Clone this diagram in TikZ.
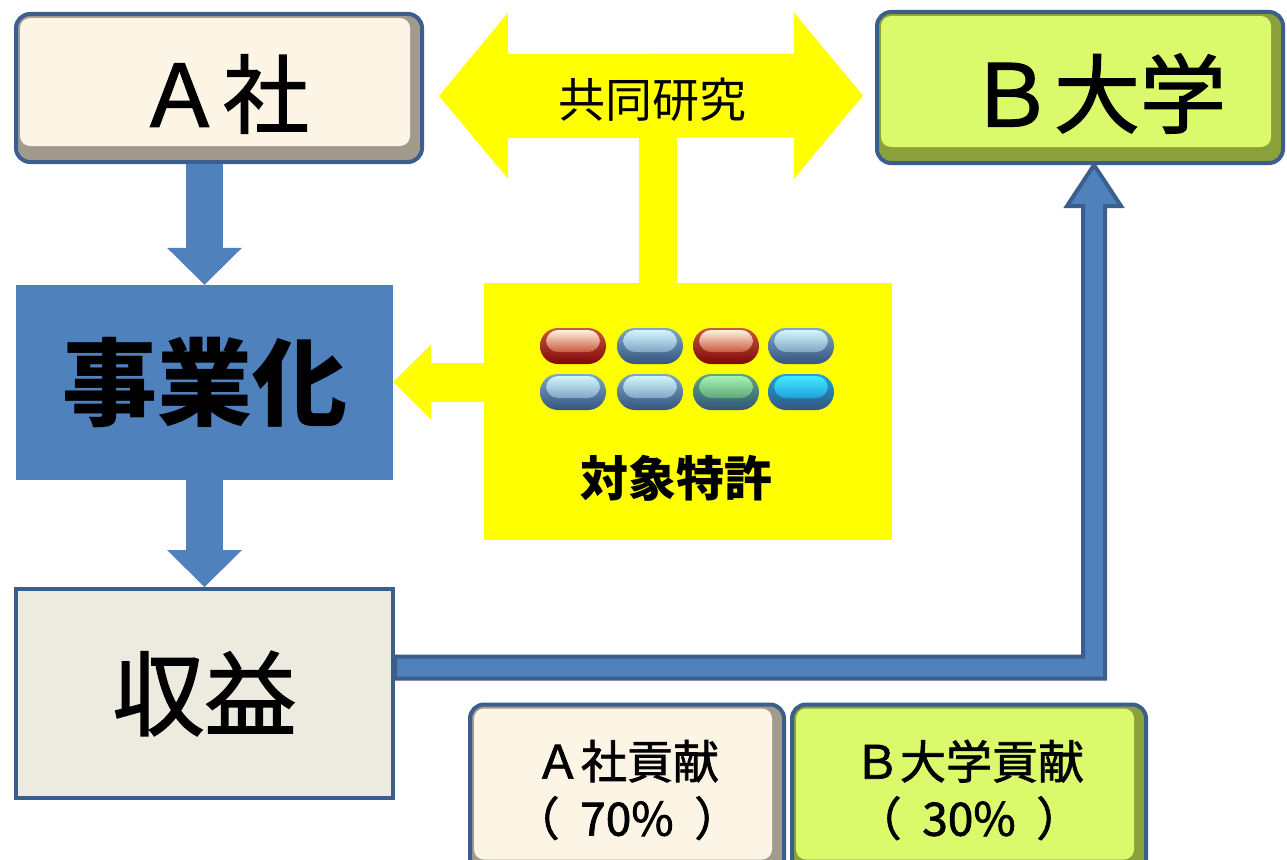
\documentclass[tikz,border=0pt]{standalone}
\usepackage{fontspec}
\newfontfamily\jp{Noto Sans CJK JP}
\newfontfamily\jpm[FakeBold=1.6]{Noto Sans CJK JP}
\usetikzlibrary{arrows.meta,calc}

\definecolor{bluebox}{HTML}{4F81BD}
\definecolor{blueline}{HTML}{3B5E8C}
\definecolor{creamface}{HTML}{FCF5E6}
\definecolor{creamside}{HTML}{A39A8E}
\definecolor{limeface}{HTML}{DBFA6B}
\definecolor{limeside}{HTML}{8CA03C}
\definecolor{profitfill}{HTML}{EDEBE0}
\definecolor{patentfill}{HTML}{FFFF00}
% pill colours
\definecolor{redrim}{HTML}{7E0808}
\definecolor{redbody}{HTML}{C85A40}
\definecolor{redhl}{HTML}{FFF2DC}
\definecolor{bluerim}{HTML}{34557F}
\definecolor{bluebody}{HTML}{7FA6C6}
\definecolor{bluehl}{HTML}{D2F6FB}
\definecolor{greenbody}{HTML}{5DA878}
\definecolor{greenhl}{HTML}{A8F2B4}
\definecolor{cyanbody}{HTML}{1EA2DC}
\definecolor{cyanhl}{HTML}{44EAFF}

% x, y, rim, body, highlight
\newcommand{\pill}[5]{%
  \shade[top color=#4, bottom color=#3, rounded corners=18pt] (#1-33,#2-18) rectangle (#1+33,#2+18);
  \shade[top color=#5, bottom color=#4, rounded corners=12pt] (#1-27,#2-16) rectangle (#1+27,#2+6);
}

\begin{document}
\begin{tikzpicture}[x=1pt, y=-1pt, font=\jpm,
    bevel/.style 2 args={draw=blueline, line width=4pt, rounded corners=14pt, fill=#2, inner sep=0pt,
      path picture={\fill[#1, rounded corners=10pt] ([shift={(4,4)}]path picture bounding box.north west)
        rectangle ([shift={(-12,-16)}]path picture bounding box.south east);}},
    bluearrow/.style={draw=bluebox, line width=37pt, -{Triangle[width=75pt, length=37pt, line width=0pt]}},
    ytip/.tip={Triangle[width=166pt, length=69pt, line width=0pt]},
    big/.style={font=\jpm\fontsize{86}{86}\selectfont},
    share/.style={font=\jpm\fontsize{46}{57}\selectfont, align=center}]
  \useasboundingbox (0,0) rectangle (1287,859);
  \clip (0,0) rectangle (1287,859);

  \node[bevel={creamface}{creamside}, minimum width=406, minimum height=148] (A) at (219,88) {};
  \node[bevel={limeface}{limeside}, minimum width=406, minimum height=151] (B) at (1080,87.5) {};
  \node[fill=bluebox, minimum width=377, minimum height=195, inner sep=0pt] (biz) at (204.5,382.5)
    {\jp\fontsize{95}{95}\selectfont\bfseries 事業化};
  \node[draw=blueline, line width=4pt, fill=profitfill, minimum width=377, minimum height=209, inner sep=0pt]
    (profit) at (204.5,693.5) {\fontsize{92}{92}\selectfont 収益};
  \node[fill=patentfill, minimum width=408, minimum height=257, inner sep=0pt] (patent) at (688,411.5) {};
  \node[bevel={creamface}{creamside}, minimum width=314, minimum height=171, share] (cA) at (627,790)
    {Ａ社貢献\\（\hspace{0.45em}70\%\hspace{0.45em}）};
  \node[bevel={limeface}{limeside}, minimum width=354, minimum height=171, share] (cB) at (969,790)
    {Ｂ大学貢献\\（\hspace{0.45em}30\%\hspace{0.45em}）};

  \node[big] at ([shift={(4,6)}]A.center) {Ａ社};
  \node[big] at ([shift={(17,6)}]B.center) {Ｂ大学};

  % joint research
  \coordinate (joint) at (652,100);
  \draw[patentfill, line width=38pt] ([xshift=-30]patent.north) -- ([xshift=-30]patent.north |- joint);
  \draw[patentfill, line width=84pt, ytip-ytip] ([shift={(15,8)}]A.east) -- ([shift={(-12,8)}]B.west);
  \node[font=\jp\fontsize{47}{47}\selectfont] at (joint) {共同研究};
  \draw[patentfill, line width=39pt, -{Triangle[width=75pt, length=38pt, line width=0pt]}]
    ([yshift=29.5]patent.west) -- ([yshift=29.5]patent.west -| biz.east);

  \draw[bluearrow] (A.south -| biz.north) -- (biz.north);
  \draw[bluearrow] (biz.south) -- (profit.north);

  % revenue back to B
  \coordinate (p0) at ([yshift=26]profit.east);
  \coordinate (p1) at ([xshift=14]B.south);
  \filldraw[fill=bluebox, draw=blueline, line width=4pt]
    ($(p0)+(0,-11)$) -- ($(p1 |- p0)+(-11,-11)$) -- ($(p1)+(-11,41)$) -- ($(p1)+(-27,41)$) -- (p1)
    -- ($(p1)+(27,41)$) -- ($(p1)+(11,41)$) -- ($(p1 |- p0)+(11,11)$) -- ($(p0)+(0,11)$) -- cycle;

  \pill{573}{346}{redrim}{redbody}{redhl}
  \pill{650}{346}{bluerim}{bluebody}{bluehl}
  \pill{726}{346}{redrim}{redbody}{redhl}
  \pill{801}{346}{bluerim}{bluebody}{bluehl}
  \pill{573}{392}{bluerim}{bluebody}{bluehl}
  \pill{650}{392}{bluerim}{bluebody}{bluehl}
  \pill{726}{392}{bluerim}{greenbody}{greenhl}
  \pill{801}{392}{bluerim}{cyanbody}{cyanhl}
  \node[font=\jp\fontsize{48}{48}\selectfont\bfseries] at (676,478) {対象特許};
\end{tikzpicture}
\end{document}
